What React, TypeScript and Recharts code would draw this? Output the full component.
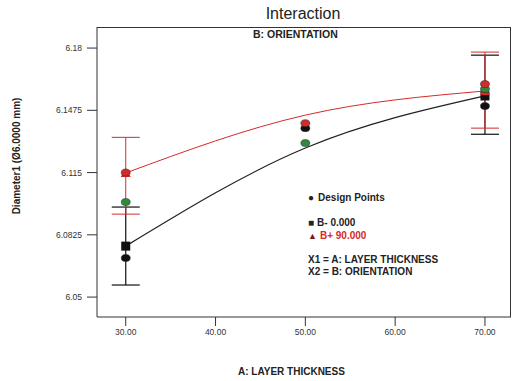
import { ComposedChart, ErrorBar, Line, Scatter, XAxis, YAxis } from 'recharts'

// A: layer thickness levels
const layerThickness = [30, 50, 70]
const xTicks = [30, 40, 50, 60, 70]
const yTicks = [6.05, 6.0825, 6.115, 6.1475, 6.18]

// fitted interaction lines
const bMinusFit = [6.0766, 6.1278, 6.155]
const bPlusFit = [6.1148, 6.145, 6.1576]

// LSD bars at the ends
const endThickness = [30, 70]
const bMinusEnd = [6.0766, 6.155]
const bMinusLow = [6.0563, 6.135]
const bMinusHigh = [6.097, 6.1763]
const bPlusEnd = [6.1148, 6.1576]
const bPlusLow = [6.0933, 6.1382]
const bPlusHigh = [6.1334, 6.1779]

// design points
const designBlack = [6.0704, 6.1382, 6.1497]
const designRed = [6.115, 6.1408, 6.1612]
const designGreen = [6.0996, 6.1304, 6.1586]

const RED = '#d42a2a'
const FONT = '"Liberation Sans", Arial, sans-serif'

const fitData = layerThickness.map((x, i) => ({ x, bMinus: bMinusFit[i], bPlus: bPlusFit[i] }))
const minusEndData = endThickness.map((x, i) => ({
  x,
  y: bMinusEnd[i],
  err: [bMinusEnd[i] - bMinusLow[i], bMinusHigh[i] - bMinusEnd[i]],
}))
const plusEndData = endThickness.map((x, i) => ({
  x,
  y: bPlusEnd[i],
  err: [bPlusEnd[i] - bPlusLow[i], bPlusHigh[i] - bPlusEnd[i]],
}))
const pts = (vals: number[]) => layerThickness.map((x, i) => ({ x, y: vals[i] }))

const dotShape = (fill: string) => (p: any) =>
  <ellipse cx={p.cx} cy={p.cy} rx={4.5} ry={3.5} fill={fill} stroke="#222" strokeWidth={0.5} />
const squareShape = (p: any) => <rect x={p.cx - 4.5} y={p.cy - 4.5} width={9} height={9} fill="#111" />
const triShape = (p: any) => (
  <path d={`M${p.cx},${p.cy - 5}L${p.cx + 5},${p.cy + 4}L${p.cx - 5},${p.cy + 4}Z`} fill={RED} />
)

const txt = (style: any) => ({ position: 'absolute' as const, fontFamily: FONT, whiteSpace: 'nowrap' as const, ...style })

export default function App() {
  return (
    <div style={{ position: 'absolute', left: 0, top: 0, width: 513, height: 381, background: '#fff' }}>
      <ComposedChart width={513} height={381} data={fitData} margin={{ top: 27, right: 2, left: 0, bottom: 0 }}>
        <XAxis
          dataKey="x"
          type="number"
          domain={[26.8, 72.9]}
          ticks={xTicks}
          tickFormatter={(v) => Number(v).toFixed(2)}
          height={64}
          tickSize={9}
          tickMargin={3}
          stroke="#333"
          tick={{ fontSize: 8.5, fill: '#333', fontFamily: FONT }}
          allowDataOverflow
        />
        <YAxis
          type="number"
          domain={[6.0396, 6.191]}
          ticks={yTicks}
          tickFormatter={(v) => String(v)}
          width={97}
          tickSize={10}
          tickMargin={5}
          stroke="#333"
          tick={{ fontSize: 8.5, fill: '#333', fontFamily: FONT }}
          allowDataOverflow
        />
        <Line dataKey="bMinus" type="monotone" stroke="#222" strokeWidth={1.2} dot={false} isAnimationActive={false} />
        <Line dataKey="bPlus" type="monotone" stroke={RED} strokeWidth={1} dot={false} isAnimationActive={false} />
        <Scatter data={minusEndData} dataKey="y" shape={squareShape} isAnimationActive={false}>
          <ErrorBar dataKey="err" direction="y" width={14} stroke="#111" strokeWidth={1.2} />
        </Scatter>
        <Scatter data={plusEndData} dataKey="y" shape={triShape} isAnimationActive={false}>
          <ErrorBar dataKey="err" direction="y" width={14} stroke={RED} strokeWidth={1} />
        </Scatter>
        <Scatter data={pts(designBlack)} dataKey="y" shape={dotShape('#111')} isAnimationActive={false} />
        <Scatter data={pts(designGreen)} dataKey="y" shape={dotShape('#2e8b3a')} isAnimationActive={false} />
        <Scatter data={pts(designRed)} dataKey="y" shape={dotShape(RED)} isAnimationActive={false} />
      </ComposedChart>

      {/* top and right edges of the plot frame */}
      <div
        style={{
          position: 'absolute',
          left: 97,
          top: 27,
          width: 414,
          height: 290,
          borderTop: '1px solid #333',
          borderRight: '1px solid #333',
          boxSizing: 'border-box',
          pointerEvents: 'none',
        }}
      />

      <div style={txt({ left: 0, width: 606, top: 5, textAlign: 'center', fontSize: 16, color: '#222' })}>Interaction</div>
      <div style={txt({ left: 253, top: 28, fontSize: 10.5, fontWeight: 'bold', color: '#222' })}>B: ORIENTATION</div>

      <div style={txt({ left: 308, top: 192, fontSize: 10, fontWeight: 'bold', color: '#222' })}>
        <span style={{ fontSize: 10, marginRight: 4 }}>●</span>Design Points
      </div>
      <div style={txt({ left: 308, top: 217, fontSize: 10, fontWeight: 'bold', color: '#222' })}>
        <span style={{ fontSize: 10, marginRight: 3 }}>■</span>B- 0.000
      </div>
      <div style={txt({ left: 308, top: 230, fontSize: 10, fontWeight: 'bold', color: RED })}>
        <span style={{ fontSize: 9, marginRight: 3, color: '#7a1a1a' }}>▲</span>B+ 90.000
      </div>
      <div style={txt({ left: 308, top: 254, fontSize: 10, fontWeight: 'bold', color: '#222' })}>X1 = A: LAYER THICKNESS</div>
      <div style={txt({ left: 308, top: 266, fontSize: 10, fontWeight: 'bold', color: '#222' })}>X2 = B: ORIENTATION</div>

      <div style={txt({ left: 238, top: 366, fontSize: 10, fontWeight: 'bold', color: '#222' })}>A: LAYER THICKNESS</div>
      <div
        style={txt({
          left: 16,
          top: 156,
          fontSize: 10,
          fontWeight: 'bold',
          color: '#222',
          transform: 'translate(-50%, -50%) rotate(-90deg)',
        })}
      >
        Diameter1 (Ø6.0000 mm)
      </div>
    </div>
  )
}
